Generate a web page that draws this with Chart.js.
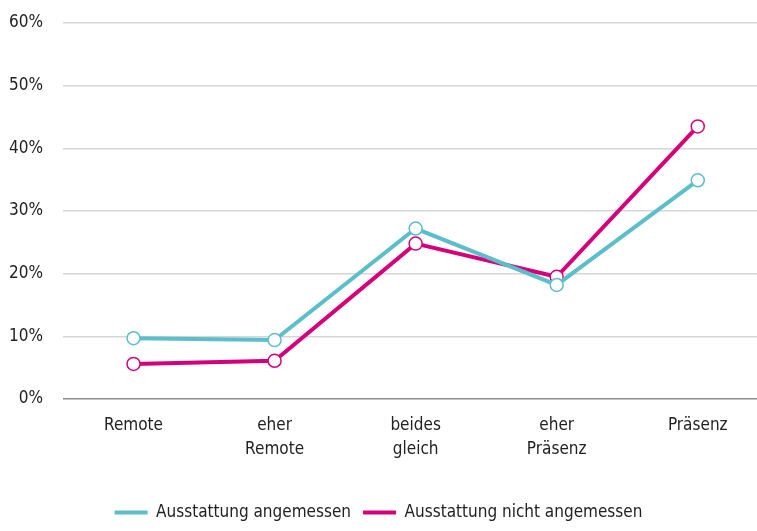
<!DOCTYPE html>
<html>
<head>
<meta charset="utf-8">
<script src="https://cdn.jsdelivr.net/npm/chart.js@4.4.1/dist/chart.umd.min.js"></script>
<style>
  html, body { margin: 0; padding: 0; background: #fff; overflow: hidden; }
  #wrap { width: 757px; height: 531px; }
</style>
</head>
<body>
<div id="wrap"><canvas id="chart"></canvas></div>
<script>
// categories on the x axis (multi-line labels)
const categories = [['Remote'], ['eher', 'Remote'], ['beides', 'gleich'], ['eher', 'Präsenz'], ['Präsenz']];
// series values in percent
const angemessen = [9.7, 9.4, 27.2, 18.2, 34.9];
const nichtAngemessen = [5.6, 6.1, 24.8, 19.5, 43.5];
const seriesNames = ['Ausstattung angemessen', 'Ausstattung nicht angemessen'];
const yTicks = [0, 10, 20, 30, 40, 50, 60];

const TEAL = '#5cbdcb';
const MAGENTA = '#d4007b';
const FONT = '"Liberation Sans Narrow", "DejaVu Sans Condensed", "Roboto", sans-serif';

function toPoints(values) {
    return values.map((v, i) => ({ x: i, y: v }));
}

function makeDataset(label, values, color) {
    return {
        label: label,
        data: toPoints(values),
        borderColor: color,
        backgroundColor: color,
        borderWidth: 4,
        pointRadius: 6.5,
        pointHoverRadius: 6.5,
        pointBorderWidth: 1.5,
        pointBackgroundColor: '#fff',
        pointBorderColor: color,
        tension: 0,
        clip: false
    };
}

const ctx = document.getElementById('chart');
new Chart(ctx, {
    type: 'line',
    data: {
        datasets: [
            makeDataset(seriesNames[0], angemessen, TEAL),
            makeDataset(seriesNames[1], nichtAngemessen, MAGENTA)
        ]
    },
    options: {
        responsive: true,
        maintainAspectRatio: false,
        animation: false,
        layout: { autoPadding: false, padding: { top: 23, right: 0, left: 0, bottom: 0 } },
        plugins: {
            tooltip: { enabled: false },
            legend: {
                position: 'bottom',
                labels: {
                    boxWidth: 33,
                    boxHeight: 4,
                    padding: 12,
                    color: '#222',
                    font: { family: FONT, size: 17 },
                    generateLabels(chart) {
                        const items = Chart.defaults.plugins.legend.labels.generateLabels(chart);
                        items.forEach(it => { it.lineWidth = 0; });
                        return items;
                    }
                }
            }
        },
        scales: {
            x: {
                type: 'linear',
                min: -0.5,
                max: 4.42,
                afterBuildTicks(scale) {
                    scale.ticks = categories.map((_, i) => ({ value: i }));
                },
                afterFit(scale) {
                    scale.height = 93;
                    scale.paddingLeft = 0;
                    scale.paddingRight = 0;
                },
                grid: { display: false },
                border: { display: false },
                ticks: {
                    autoSkip: false,
                    maxRotation: 0,
                    padding: 6,
                    color: '#222',
                    font: { family: FONT, size: 17, lineHeight: 1.45 },
                    callback: (v) => categories[v]
                }
            },
            y: {
                min: 0,
                max: 60,
                afterBuildTicks(scale) {
                    scale.ticks = yTicks.map(v => ({ value: v }));
                },
                afterFit(scale) {
                    scale.width = 63;
                    scale.paddingTop = 0;
                    scale.paddingBottom = 0;
                },
                border: { display: false },
                grid: {
                    drawTicks: false,
                    lineWidth: 1.5,
                    color: (c) => c.tick && c.tick.value === 0 ? '#8c8c8c' : '#d6d6d6'
                },
                ticks: {
                    padding: 20,
                    color: '#222',
                    font: { family: FONT, size: 17 },
                    callback: (v) => v + '%'
                }
            }
        }
    }
});
</script>
</body>
</html>
